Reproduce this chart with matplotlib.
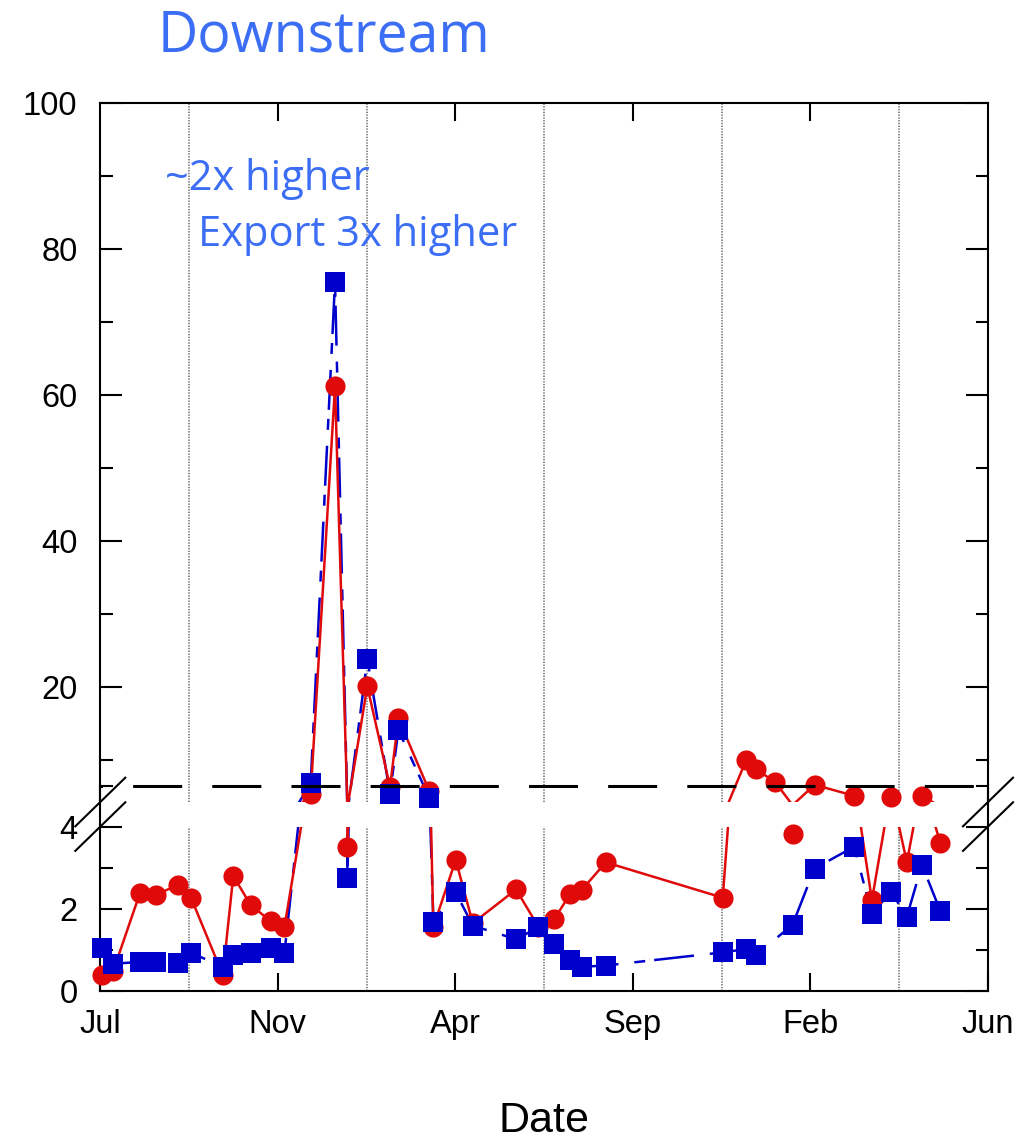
import numpy as np
import matplotlib
matplotlib.use("Agg")
import matplotlib.pyplot as plt
from matplotlib.patches import Rectangle
from matplotlib.lines import Line2D

plt.rcParams['font.family'] = ['Liberation Sans', 'DejaVu Sans']
plt.rcParams['lines.scale_dashes'] = False

# ---------------- data ----------------
x_tick_pos = [0, 1, 2, 3, 4, 5]
x_tick_labels = ['Jul', 'Nov', 'Apr', 'Sep', 'Feb', 'Jun']
upper_major = [20, 40, 60, 80, 100]
upper_minor = [10, 30, 50, 70, 90]
lower_major = [0, 2, 4]
lower_minor = [1, 3, 5]

x_red = [0.008, 0.073, 0.224, 0.314, 0.436, 0.511, 0.690, 0.749, 0.847, 0.960,
         1.037, 1.185, 1.322, 1.392, 1.504, 1.632, 1.679, 1.854, 1.876, 2.002,
         2.098, 2.342, 2.468, 2.556, 2.646, 2.712, 2.847, 3.506, 3.638, 3.694,
         3.801, 3.899, 4.023, 4.246, 4.346, 4.453, 4.543, 4.628, 4.731]
y_red = [0.39, 0.49, 2.39, 2.34, 2.58, 2.27, 0.39, 2.80, 2.09, 1.70,
         1.55, 5.4, 61.2, 3.50, 20.1, 6.3, 15.7, 5.7, 1.56, 3.19,
         1.65, 2.47, 1.56, 1.74, 2.36, 2.46, 3.13, 2.27, 10.0, 8.7,
         7.0, 3.81, 6.6, 5.1, 2.21, 4.9, 3.13, 5.1, 3.61]

x_blue = [0.008, 0.073, 0.224, 0.314, 0.436, 0.511, 0.690, 0.749, 0.847, 0.960,
          1.037, 1.185, 1.322, 1.392, 1.504, 1.632, 1.679, 1.854, 1.876, 2.002,
          2.098, 2.342, 2.468, 2.556, 2.646, 2.712, 2.847, 3.506, 3.638, 3.694,
          3.899, 4.023, 4.246, 4.346, 4.453, 4.543, 4.628, 4.731]
y_blue = [1.04, 0.66, 0.71, 0.71, 0.69, 0.93, 0.59, 0.88, 0.93, 1.04,
          0.92, 6.8, 75.5, 2.75, 23.8, 5.4, 14.1, 4.75, 1.69, 2.40,
          1.59, 1.26, 1.55, 1.14, 0.75, 0.59, 0.62, 0.94, 1.02, 0.88,
          1.61, 2.98, 3.51, 1.87, 2.42, 1.81, 3.07, 1.95]

title = 'Downstream'
note1 = '~2x higher'
note2 = 'Export 3x higher'
xlabel = 'Date'

# ---------------- style ----------------
RED = '#E00A0A'
BLUE = '#0000CC'
TXT_BLUE = '#3C6EF5'
GRID = '#808080'
MS = 14.5
TICK_FS = 23.5

W, H = 1033, 1139
fig = plt.figure(figsize=(W / 100, H / 100), dpi=100)


def fx(px):
    return px / W


def fy(py):
    return 1 - py / H


L, R = 100.3, 988.0
TOP, BOT = 103.0, 991.0
UP_BOT = 802.0            # bottom of the upper panel
LOW_PX_PER_UNIT = 41.1
LOW_TOP = BOT - 5 * LOW_PX_PER_UNIT
UP_PX_PER_UNIT = 7.3
up_ymin = 100 - (UP_BOT - TOP) / UP_PX_PER_UNIT
LOW_CLIP = 4.0

ax_up = fig.add_axes([fx(L), fy(UP_BOT), fx(R) - fx(L), fy(TOP) - fy(UP_BOT)])
ax_lo = fig.add_axes([fx(L), fy(BOT), fx(R) - fx(L), fy(LOW_TOP) - fy(BOT)])
ax_up.set_zorder(1)
ax_lo.set_zorder(2)
for ax in (ax_up, ax_lo):
    ax.set_facecolor('none')
    ax.set_xlim(0, 5)
    for s in ax.spines.values():
        s.set_linewidth(1.5)

ax_up.set_ylim(up_ymin, 100)
ax_lo.set_ylim(0, 5)
ax_up.spines['bottom'].set_visible(False)
ax_lo.spines['top'].set_visible(False)

# ticks
ax_up.set_yticks(upper_major)
ax_up.set_yticks(upper_minor, minor=True)
ax_up.set_xticks(x_tick_pos[1:-1])
ax_up.tick_params(axis='x', which='both', top=True, bottom=False, labeltop=False,
                  labelbottom=False, direction='in', length=13, width=1.5)
ax_up.tick_params(axis='y', which='major', left=True, right=True, direction='in',
                  length=16, width=1.5, labelsize=TICK_FS, pad=16.5)
ax_up.tick_params(axis='y', which='minor', left=True, right=True, direction='in',
                  length=9, width=1.5)

ax_lo.set_yticks(lower_major)
ax_lo.set_yticks(lower_minor, minor=True)
ax_lo.set_xticks(x_tick_pos)
ax_lo.set_xticklabels(x_tick_labels)
ax_lo.tick_params(axis='x', which='both', top=False, bottom=True, direction='in',
                  length=13, width=1.5, labelsize=TICK_FS, pad=13)
ax_lo.tick_params(axis='y', which='major', left=True, right=True, direction='in',
                  length=16, width=1.5, labelsize=TICK_FS, pad=16.5)
ax_lo.tick_params(axis='y', which='minor', left=True, right=True, direction='in',
                  length=9, width=1.5)

clip_rect = Rectangle((0, 0), 1, LOW_CLIP / 5, transform=ax_lo.transAxes,
                      facecolor='none', edgecolor='none')
ax_lo.add_patch(clip_rect)
clip_rect.set_visible(False)

grid_x = np.arange(0.5, 5, 1.0)
blue_ls = (0, (28.8, 11.5, 7.9, 6.5))

xr, yr = np.array(x_red), np.array(y_red)
xb, yb = np.array(x_blue), np.array(y_blue)

for ax in (ax_up, ax_lo):
    artists = []
    for g in grid_x:
        artists.append(ax.axvline(g, color=GRID, lw=1.3, ls=(0, (1, 1)), zorder=1))
    artists += ax.plot(xb, yb, color=BLUE, lw=1.8, ls=blue_ls, zorder=2)
    artists += ax.plot(xr, yr, color=RED, lw=1.8, zorder=3)
    if ax is ax_lo:
        for a in artists:
            a.set_clip_path(clip_rect)

# markers: only those whose centre lies inside each panel
mr_up = yr >= up_ymin
mb_up = yb >= up_ymin
mr_lo = yr <= LOW_CLIP
mb_lo = yb <= LOW_CLIP
for ax, mr, mb in ((ax_up, mr_up, mb_up), (ax_lo, mr_lo, mb_lo)):
    ax.plot(xr[mr], yr[mr], ls='none', marker='o', ms=MS, mfc=RED, mew=0,
            clip_on=False, zorder=4)
    ax.plot(xb[mb], yb[mb], ls='none', marker='s', ms=MS - 0.5, mfc=BLUE, mew=0,
            clip_on=False, zorder=5)

# dashed break line at the top of the lower panel
ax_lo.axhline(5, color='black', lw=2.2, ls=(33.5, (35.3, 21.7)), clip_on=False,
              zorder=6)

# break marks
for xc in (L, R):
    for yc in (UP_BOT, BOT - LOW_CLIP * LOW_PX_PER_UNIT):
        fig.add_artist(Line2D([fx(xc - 25), fx(xc + 25)], [fy(yc + 24.3), fy(yc - 24.3)],
                              transform=fig.transFigure, color='black', lw=1.5,
                              zorder=10))

# texts
TFONT = ['Open Sans', 'DejaVu Sans']
fig.text(fx(158), fy(52), title, color=TXT_BLUE, fontsize=40,
         family=TFONT, ha='left', va='baseline')
fig.text(fx(165), fy(190), note1, color=TXT_BLUE, fontsize=30,
         family=TFONT, ha='left', va='baseline')
fig.text(fx(198), fy(246), note2, color=TXT_BLUE, fontsize=30,
         family=TFONT, ha='left', va='baseline')
fig.text(fx(544), fy(1132), xlabel, fontsize=31, ha='center', va='baseline')

fig.savefig('out.png', dpi=100)
